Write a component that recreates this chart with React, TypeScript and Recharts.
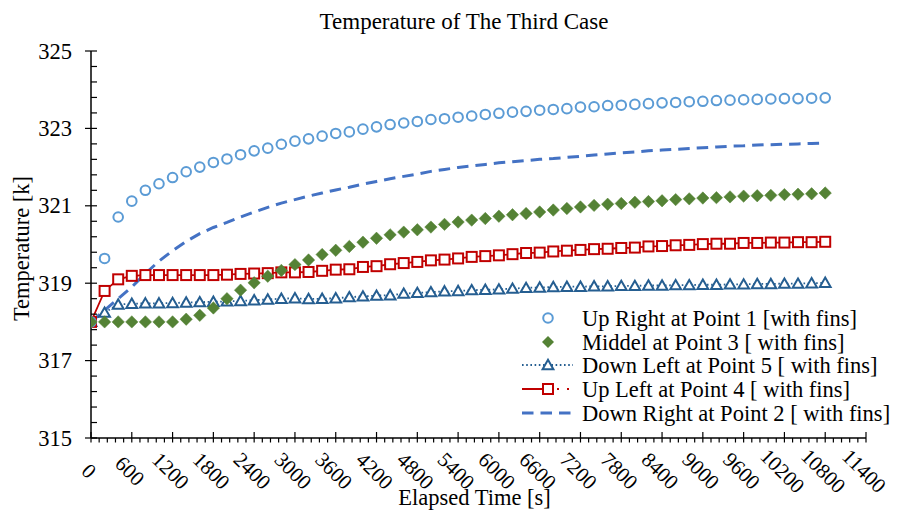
import React from 'react';
import { LineChart, Line, XAxis, YAxis, Legend } from 'recharts';

const FONT = '"Liberation Serif", "Times New Roman", serif';

const chartTitle = 'Temperature of The Third Case';
const xAxisTitle = 'Elapsed Time [s]';
const yAxisTitle = 'Temperature [k]';

const seriesNames = [
  'Up Right at Point 1 [with fins]',
  'Middel at Point 3 [ with fins]',
  'Down Left at Point 5 [ with fins]',
  'Up Left at Point 4 [ with fins]',
  'Down Right at Point 2 [ with fins]',
];

const times = [
  0, 200, 400, 600, 800, 1000, 1200, 1400, 1600, 1800, 2000, 2200, 2400, 2600, 2800,
  3000, 3200, 3400, 3600, 3800, 4000, 4200, 4400, 4600, 4800, 5000, 5200, 5400, 5600,
  5800, 6000, 6200, 6400, 6600, 6800, 7000, 7200, 7400, 7600, 7800, 8000, 8200, 8400,
  8600, 8800, 9000, 9200, 9400, 9600, 9800, 10000, 10200, 10400, 10600, 10800,
];

const upRight = [
  318.0, 319.64, 320.71, 321.12, 321.4, 321.57, 321.73, 321.88, 322.0, 322.12, 322.21,
  322.32, 322.42, 322.49, 322.59, 322.67, 322.73, 322.8, 322.87, 322.91, 322.98, 323.04,
  323.1, 323.14, 323.18, 323.23, 323.25, 323.29, 323.32, 323.36, 323.39, 323.42, 323.44,
  323.47, 323.49, 323.51, 323.55, 323.56, 323.59, 323.6, 323.62, 323.64, 323.66, 323.67,
  323.69, 323.7, 323.72, 323.73, 323.74, 323.75, 323.76, 323.77, 323.77, 323.78, 323.79,
];

const middel = [
  318.0, 318.0, 318.0, 318.0, 318.0, 318.0, 318.0, 318.07, 318.17, 318.36, 318.6,
  318.82, 319.01, 319.18, 319.33, 319.48, 319.6, 319.74, 319.85, 319.95, 320.06, 320.16,
  320.25, 320.32, 320.38, 320.45, 320.52, 320.58, 320.63, 320.67, 320.73, 320.77, 320.8,
  320.84, 320.89, 320.93, 320.97, 321.01, 321.04, 321.06, 321.09, 321.11, 321.13, 321.16,
  321.18, 321.2, 321.21, 321.23, 321.25, 321.26, 321.27, 321.29, 321.3, 321.31, 321.33,
];

const downLeft = [
  318.0, 318.24, 318.45, 318.47, 318.48, 318.48, 318.49, 318.5, 318.51, 318.52, 318.53,
  318.54, 318.56, 318.58, 318.6, 318.61, 318.59, 318.6, 318.61, 318.64, 318.66, 318.68,
  318.69, 318.73, 318.75, 318.77, 318.79, 318.8, 318.82, 318.83, 318.84, 318.86, 318.88,
  318.89, 318.9, 318.91, 318.91, 318.92, 318.92, 318.93, 318.93, 318.94, 318.94, 318.95,
  318.95, 318.96, 318.96, 318.97, 318.97, 318.98, 318.98, 318.99, 318.99, 319.0, 319.01,
];

const upLeft = [
  318.0, 318.8, 319.1, 319.19, 319.21, 319.21, 319.21, 319.21, 319.21, 319.21, 319.22,
  319.24, 319.25, 319.26, 319.28, 319.28, 319.29, 319.32, 319.35, 319.36, 319.42, 319.44,
  319.49, 319.52, 319.55, 319.59, 319.61, 319.64, 319.68, 319.7, 319.72, 319.75, 319.78,
  319.79, 319.82, 319.84, 319.86, 319.88, 319.89, 319.91, 319.92, 319.95, 319.96, 319.98,
  319.99, 320.01, 320.02, 320.02, 320.04, 320.04, 320.05, 320.05, 320.06, 320.06, 320.07,
];

const downRight = [
  318.0, 318.3, 318.6, 318.9, 319.25, 319.57, 319.84, 320.08, 320.28, 320.44, 320.57,
  320.71, 320.84, 320.96, 321.07, 321.16, 321.25, 321.33, 321.41, 321.48, 321.56, 321.63,
  321.7, 321.76, 321.82, 321.89, 321.94, 321.99, 322.03, 322.07, 322.11, 322.14, 322.17,
  322.2, 322.22, 322.25, 322.28, 322.31, 322.34, 322.37, 322.39, 322.42, 322.44, 322.46,
  322.48, 322.5, 322.52, 322.54, 322.55, 322.57, 322.58, 322.59, 322.6, 322.61, 322.62,
];

const xMajorLabels = [
  0, 600, 1200, 1800, 2400, 3000, 3600, 4200, 4800, 5400, 6000, 6600, 7200, 7800, 8400,
  9000, 9600, 10200, 10800, 11400,
];
const yMajorLabels = [315, 317, 319, 321, 323, 325];

const xMinorStep = 120;
const yMinorStep = 0.4;

const xTicks: number[] = [];
for (let k = 0; k * xMinorStep <= 11400; k++) xTicks.push(k * xMinorStep);
const yTicks: number[] = [];
for (let k = 0; k <= 25; k++) yTicks.push(Math.round((315 + k * yMinorStep) * 10) / 10);

const data = times.map((t, i) => ({
  t,
  upRight: upRight[i],
  middel: middel[i],
  downLeft: downLeft[i],
  upLeft: upLeft[i],
  downRight: downRight[i],
}));

const C_UR = '#5B9BD5';
const C_MID = '#548235';
const C_DL = '#255E91';
const C_UL = '#C00000';
const C_DR = '#4472C4';

const XTick = (props: any) => {
  const { x, y, payload } = props;
  const v = payload.value;
  const major = xMajorLabels.includes(v);
  const lx = x - 2;
  const ly = y + 33;
  return (
    <g>
      <line x1={x} x2={x} y1={major ? y - 6 : y} y2={y + 4.5} stroke="#000" strokeWidth={1.2} />
      {major && (
        <text
          x={lx}
          y={ly}
          transform={`rotate(45 ${lx} ${ly})`}
          textAnchor="middle"
          dominantBaseline="central"
          fontSize={21}
          fontFamily={FONT}
          fill="#000"
        >
          {v}
        </text>
      )}
    </g>
  );
};

const YTick = (props: any) => {
  const { x, y, payload } = props;
  const v = payload.value;
  const major = yMajorLabels.some((m) => Math.abs(m - v) < 1e-6);
  return (
    <g>
      <line x1={major ? x - 6 : x} x2={x + 6} y1={y} y2={y} stroke="#000" strokeWidth={1.2} />
      {major && (
        <text x={x - 19} y={y + 7.5} textAnchor="end" fontSize={22.5} fontFamily={FONT} fill="#000">
          {v}
        </text>
      )}
    </g>
  );
};

const YLabel = (props: any) => {
  const vb = props.viewBox || { x: 31, y: 51, width: 60, height: 387 };
  const cx = vb.x - 10;
  const cy = vb.y + vb.height / 2 + 4;
  return (
    <text
      x={cx}
      y={cy}
      transform={`rotate(-90 ${cx} ${cy})`}
      textAnchor="middle"
      dominantBaseline="central"
      fontSize={22.5}
      fontFamily={FONT}
      fill="#000"
    >
      {yAxisTitle}
    </text>
  );
};

const XLabel = (props: any) => {
  const vb = props.viewBox || { x: 91, y: 438, width: 775, height: 30 };
  const cx = vb.x + vb.width / 2 - 4;
  const cy = vb.y + 67;
  return (
    <text x={cx} y={cy} textAnchor="middle" fontSize={22.5} fontFamily={FONT} fill="#000">
      {xAxisTitle}
    </text>
  );
};

const CircleDot = (p: any) =>
  p.cx == null ? null : (
    <circle key={`c${p.index}`} cx={p.cx} cy={p.cy} r={4.8} fill="#fff" stroke={C_UR} strokeWidth={2} />
  );

const DiamondDot = (p: any) =>
  p.cx == null ? null : (
    <path
      key={`d${p.index}`}
      d={`M${p.cx},${p.cy - 6.2}L${p.cx + 6.2},${p.cy}L${p.cx},${p.cy + 6.2}L${p.cx - 6.2},${p.cy}Z`}
      fill={C_MID}
      stroke={C_MID}
      strokeWidth={0.5}
    />
  );

const TriangleDot = (p: any) =>
  p.cx == null ? null : (
    <path
      key={`t${p.index}`}
      d={`M${p.cx},${p.cy - 5.2}L${p.cx + 5.4},${p.cy + 4.2}L${p.cx - 5.4},${p.cy + 4.2}Z`}
      fill="#fff"
      stroke={C_DL}
      strokeWidth={2}
      strokeLinejoin="miter"
    />
  );

const SquareDot = (p: any) =>
  p.cx == null ? null : (
    <rect
      key={`s${p.index}`}
      x={p.cx - 5}
      y={p.cy - 5}
      width={10}
      height={10}
      fill="#fff"
      stroke={C_UL}
      strokeWidth={2}
    />
  );

const legendRowsY = [13, 37, 60, 84, 108];

const renderLegend = () => {
  const tx = 67;
  const mx = 33;
  return (
    <svg width={390} height={122} style={{ display: 'block', overflow: 'visible' }}>
      <circle cx={mx} cy={legendRowsY[0]} r={4.8} fill="#fff" stroke={C_UR} strokeWidth={2} />
      <path
        d={`M${mx},${legendRowsY[1] - 6}L${mx + 6},${legendRowsY[1]}L${mx},${legendRowsY[1] + 6}L${mx - 6},${legendRowsY[1]}Z`}
        fill={C_MID}
      />
      <line x1={7} x2={58} y1={legendRowsY[2]} y2={legendRowsY[2]} stroke={C_DL} strokeWidth={1.8} strokeDasharray="1.6 2.6" />
      <path
        d={`M${mx},${legendRowsY[2] - 5.2}L${mx + 5.4},${legendRowsY[2] + 4.2}L${mx - 5.4},${legendRowsY[2] + 4.2}Z`}
        fill="#fff"
        stroke={C_DL}
        strokeWidth={2}
      />
      <line x1={7} x2={28} y1={legendRowsY[3]} y2={legendRowsY[3]} stroke={C_UL} strokeWidth={2} />
      <rect x={mx - 5} y={legendRowsY[3] - 5} width={10} height={10} fill="#fff" stroke={C_UL} strokeWidth={2} />
      <line x1={42} x2={44} y1={legendRowsY[3]} y2={legendRowsY[3]} stroke={C_UL} strokeWidth={2} />
      <line x1={52} x2={54} y1={legendRowsY[3]} y2={legendRowsY[3]} stroke={C_UL} strokeWidth={2} />
      <line x1={7} x2={58} y1={legendRowsY[4]} y2={legendRowsY[4]} stroke={C_DR} strokeWidth={3} strokeDasharray="11.5 7" />
      {seriesNames.map((n, i) => (
        <text
          key={n}
          x={tx}
          y={legendRowsY[i]}
          dominantBaseline="central"
          fontSize={22.5}
          fontFamily={FONT}
          fill="#000"
        >
          {n}
        </text>
      ))}
    </svg>
  );
};

export default function App() {
  return (
    <div style={{ position: 'absolute', left: 0, top: 0, width: 910, height: 511, background: '#fff' }}>
      <svg
        width={910}
        height={40}
        style={{ position: 'absolute', left: 0, top: 0, pointerEvents: 'none' }}
      >
        <text x={464} y={29} textAnchor="middle" fontSize={23} fontFamily={FONT} fill="#000">
          {chartTitle}
        </text>
      </svg>
      <LineChart
        width={910}
        height={511}
        data={data}
        margin={{ top: 51, right: 44, bottom: 43, left: 31 }}
        style={{ position: 'absolute', left: 0, top: 0 }}
      >
        <XAxis
          dataKey="t"
          type="number"
          domain={[0, 11400]}
          ticks={xTicks}
          interval={0}
          tick={<XTick />}
          tickLine={false}
          tickSize={0}
          tickMargin={0}
          height={30}
          axisLine={{ stroke: '#000', strokeWidth: 1.5 }}
          label={<XLabel />}
          allowDataOverflow
        />
        <YAxis
          type="number"
          domain={[315, 325]}
          ticks={yTicks}
          interval={0}
          tick={<YTick />}
          tickLine={false}
          tickSize={0}
          tickMargin={0}
          width={60}
          axisLine={{ stroke: '#000', strokeWidth: 1.5 }}
          label={<YLabel />}
          allowDataOverflow
        />
        <Legend
          layout="horizontal"
          verticalAlign="middle"
          align="center"
          content={renderLegend}
          wrapperStyle={{ left: 515, top: 305, width: 390, height: 122 }}
        />
        <Line
          dataKey="downRight"
          name={seriesNames[4]}
          stroke={C_DR}
          strokeWidth={3}
          strokeDasharray="11.5 7"
          dot={false}
          activeDot={false}
          isAnimationActive={false}
          type="linear"
        />
        <Line
          dataKey="downLeft"
          name={seriesNames[2]}
          stroke={C_DL}
          strokeWidth={1.8}
          strokeDasharray="1.6 2.6"
          dot={TriangleDot}
          activeDot={false}
          isAnimationActive={false}
          type="linear"
        />
        <Line
          dataKey="upLeft"
          name={seriesNames[3]}
          stroke={C_UL}
          strokeWidth={1.8}
          dot={SquareDot}
          activeDot={false}
          isAnimationActive={false}
          type="linear"
        />
        <Line
          dataKey="upRight"
          name={seriesNames[0]}
          stroke="none"
          dot={CircleDot}
          activeDot={false}
          isAnimationActive={false}
          type="linear"
        />
        <Line
          dataKey="middel"
          name={seriesNames[1]}
          stroke="none"
          dot={DiamondDot}
          activeDot={false}
          isAnimationActive={false}
          type="linear"
        />
      </LineChart>
    </div>
  );
}
